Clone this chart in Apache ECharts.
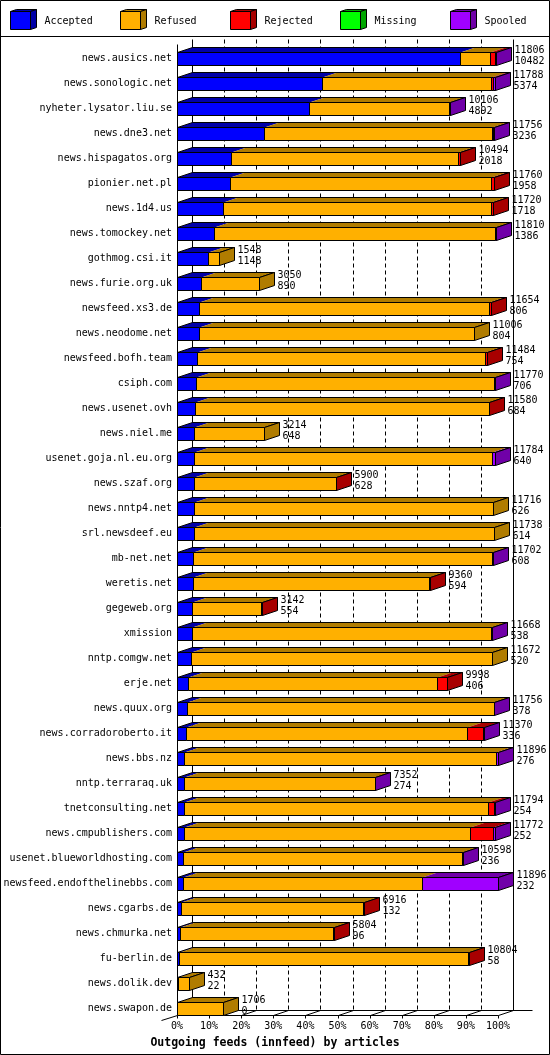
<!DOCTYPE html>
<html><head><meta charset="utf-8">
<script src="https://cdn.jsdelivr.net/npm/echarts@6/dist/echarts.min.js"></script>
<style>html,body{margin:0;padding:0;background:#fff}#c{width:550px;height:1055px}</style>
</head><body><div id="c"></div>
<script>
const hosts = ["news.ausics.net","news.sonologic.net","nyheter.lysator.liu.se","news.dne3.net","news.hispagatos.org","pionier.net.pl","news.1d4.us","news.tomockey.net","gothmog.csi.it","news.furie.org.uk","newsfeed.xs3.de","news.neodome.net","newsfeed.bofh.team","csiph.com","news.usenet.ovh","news.niel.me","usenet.goja.nl.eu.org","news.szaf.org","news.nntp4.net","srl.newsdeef.eu","mb-net.net","weretis.net","gegeweb.org","xmission","nntp.comgw.net","erje.net","news.quux.org","news.corradoroberto.it","news.bbs.nz","nntp.terraraq.uk","tnetconsulting.net","news.cmpublishers.com","usenet.blueworldhosting.com","newsfeed.endofthelinebbs.com","news.cgarbs.de","news.chmurka.net","fu-berlin.de","news.dolik.dev","news.swapon.de"];
const totals   = [11806,11788,10106,11756,10494,11760,11720,11810,1548,3050,11654,11006,11484,11770,11580,3214,11784,5900,11716,11738,11702,9360,3142,11668,11672,9998,11756,11370,11896,7352,11794,11772,10598,11896,6916,5804,10804,432,1706];
const accepted = [10482,5374,4892,3236,2018,1958,1718,1386,1148,890,806,804,754,706,684,648,640,628,626,614,608,594,554,538,520,406,378,336,276,274,254,252,236,232,132,96,58,22,0];
const refused  = [1100,6274,5194,8430,8389,9672,9902,10384,400,2160,10768,10202,10670,11024,10881,2566,11034,5262,11090,11124,11074,8746,2570,11110,11152,9211,11358,10411,11540,7058,11278,10600,10337,8866,6769,5693,10736,410,1706];
const rejected = [200,80,0,30,87,130,100,0,0,0,80,0,60,0,15,0,0,10,0,0,0,20,18,0,0,381,0,583,0,0,208,852,0,0,15,15,10,0,0];
const missing  = [0,0,0,0,0,0,0,0,0,0,0,0,0,0,0,0,0,0,0,0,0,0,0,0,0,0,0,0,0,0,0,0,0,0,0,0,0,0,0];
const spooled  = [24,60,20,60,0,0,0,40,0,0,0,0,0,40,0,0,110,0,0,0,20,0,0,20,0,0,20,40,80,20,54,68,25,2798,0,0,0,0,0];
const seriesNames = ["Accepted","Refused","Rejected","Missing","Spooled"];
const xTicks = [0,10,20,30,40,50,60,70,80,90,100];
const titleText = "Outgoing feeds (innfeed) by articles";

const FRONT = ["#0000ff","#ffb000","#ff0000","#00ff00","#a000ff"];
const DARK  = ["#0000a8","#b07c00","#a80000","#00a800","#7000a8"];
const FONT = "DejaVu Sans Mono";
const MAXV = Math.max(...totals);
const D = 15, H = 5;

const chart = echarts.init(document.getElementById('c'), null, {renderer:'canvas'});

function renderBar(params, api) {
  const i = api.value(0);
  const vals = [api.value(1), api.value(2), api.value(3), api.value(4), api.value(5)];
  const total = api.value(6), acc = api.value(1);
  const cy = api.coord([0, i])[1];
  const yT = Math.round(cy - 6.5) + 0.5, yB = yT + 13;
  const X = v => Math.round(api.coord([v / MAXV * 100, i])[0]) + 0.5;
  const children = [];
  const x0 = X(0);
  let cum = 0, last = 1;
  const fronts = [];
  for (let k = 0; k < 5; k++) {
    const v = vals[k];
    if (v <= 0) continue;
    const xa = X(cum), xb = X(cum + v);
    children.push({type:'polygon', shape:{points:[[xa,yT],[xb,yT],[xb+D,yT-H],[xa+D,yT-H]]}, style:{fill:DARK[k], stroke:null}});
    fronts.push({type:'rect', shape:{x:xa, y:yT, width:xb-xa, height:yB-yT}, style:{fill:FRONT[k], stroke:'#000', lineWidth:1}});
    cum += v; last = k;
  }
  const xe = X(cum);
  children.push({type:'polygon', shape:{points:[[x0,yT],[xe,yT],[xe+D,yT-H],[x0+D,yT-H]]}, style:{fill:null, stroke:'#000', lineWidth:1}});
  children.push(...fronts);
  children.push({type:'polygon', shape:{points:[[xe,yT],[xe+D,yT-H],[xe+D,yB-H],[xe,yB]]}, style:{fill:DARK[last], stroke:'#000', lineWidth:1}});
  children.push({type:'text', style:{x:xe+D+3, y:cy-3, text: total + "\n" + acc, font: "10px '" + FONT + "'", fill:'#000', verticalAlign:'middle', align:'left', lineHeight:11}});
  return {type:'group', children};
}

function renderGrid(params, api) {
  const v = api.value(0);
  const n = hosts.length;
  const cy0 = api.coord([0, 0])[1];
  const cyL = api.coord([0, n - 1])[1];
  const yFront = Math.round(cyL - 6.5) + 0.5 + 13;
  const yBack = yFront - H;
  const yTop = Math.round(cy0 - 6.5) + 0.5 - 13;
  const xf = Math.round(api.coord([v, 0])[0]) + 0.5;
  const xb = xf + D;
  const ch = [];
  const solid = (v === 0 || v === 100);
  ch.push({type:'line', shape:{x1:xb, y1:yTop, x2:xb, y2:yBack}, style:{stroke:'#000', lineWidth:1, lineDash: solid ? null : [4,3]}});
  ch.push({type:'line', shape:{x1:xf, y1:yFront, x2:xf, y2:yFront+3}, style:{stroke:'#000', lineWidth:1}});
  if (v > 0) ch.push({type:'line', shape:{x1:xf, y1:yFront, x2:xb, y2:yBack}, style:{stroke:'#000', lineWidth:1}});
  if (v === 0) {
    const x100 = Math.round(api.coord([100, 0])[0]) + 0.5;
    ch.push({type:'line', shape:{x1:xf, y1:yTop+5, x2:xf, y2:yFront}, style:{stroke:'#000', lineWidth:1}});
    ch.push({type:'line', shape:{x1:xf, y1:yFront, x2:x100, y2:yFront}, style:{stroke:'#000', lineWidth:1}});
    ch.push({type:'line', shape:{x1:xb, y1:yBack, x2:x100+D+19, y2:yBack}, style:{stroke:'#000', lineWidth:1}});
    ch.push({type:'line', shape:{x1:xf-16, y1:yFront+5, x2:xf, y2:yFront}, style:{stroke:'#000', lineWidth:1}});
  }
  return {type:'group', children:ch};
}

const legendEls = [];
seriesNames.forEach((nm, k) => {
  const x0 = 10.5 + 110 * k;
  legendEls.push({type:'polygon', shape:{points:[[x0,11.5],[x0+20,11.5],[x0+26,9.5],[x0+6,9.5]]}, style:{fill:DARK[k], stroke:'#000', lineWidth:1}});
  legendEls.push({type:'polygon', shape:{points:[[x0+20,11.5],[x0+26,9.5],[x0+26,27.5],[x0+20,29.5]]}, style:{fill:DARK[k], stroke:'#000', lineWidth:1}});
  legendEls.push({type:'rect', shape:{x:x0, y:11.5, width:20, height:18}, style:{fill:FRONT[k], stroke:'#000', lineWidth:1}});
  legendEls.push({type:'text', style:{x:x0+34, y:21, text:nm, font:"10px '" + FONT + "'", fill:'#000', verticalAlign:'middle'}});
});
legendEls.push({type:'line', shape:{x1:0, y1:36.5, x2:550, y2:36.5}, style:{stroke:'#000', lineWidth:1}});
legendEls.push({type:'rect', shape:{x:0.5, y:0.5, width:549, height:1054}, style:{fill:null, stroke:'#000', lineWidth:1}});

chart.setOption({
  animation: false,
  backgroundColor: '#fff',
  title: {text: titleText, left: 'center', top: 1032, textStyle:{fontFamily:FONT, fontWeight:'bold', fontSize:11.5, color:'#000'}},
  grid: {left: 177, width: 321, top: 46, height: 975},
  xAxis: {type:'value', min:0, max:100, interval:10, axisLine:{show:false}, axisTick:{show:false}, splitLine:{show:false},
    axisLabel:{formatter:'{value}%', margin:0, fontFamily:FONT, fontSize:10, color:'#000'}},
  yAxis: {type:'category', data:hosts, inverse:true, axisLine:{show:false}, axisTick:{show:false}, splitLine:{show:false},
    axisLabel:{margin:5, fontFamily:FONT, fontSize:10, color:'#000', interval:0}},
  graphic: legendEls,
  series: [
    {type:'custom', z:1, renderItem:renderGrid, data: xTicks.map(t => [t]), encode:{x:0}, silent:true, clip:false},
    {type:'custom', z:2, renderItem:renderBar, silent:true, clip:false,
     data: hosts.map((h, i) => [i, accepted[i], refused[i], rejected[i], missing[i], spooled[i], totals[i]]), encode:{y:0}}
  ]
});
</script></body></html>
